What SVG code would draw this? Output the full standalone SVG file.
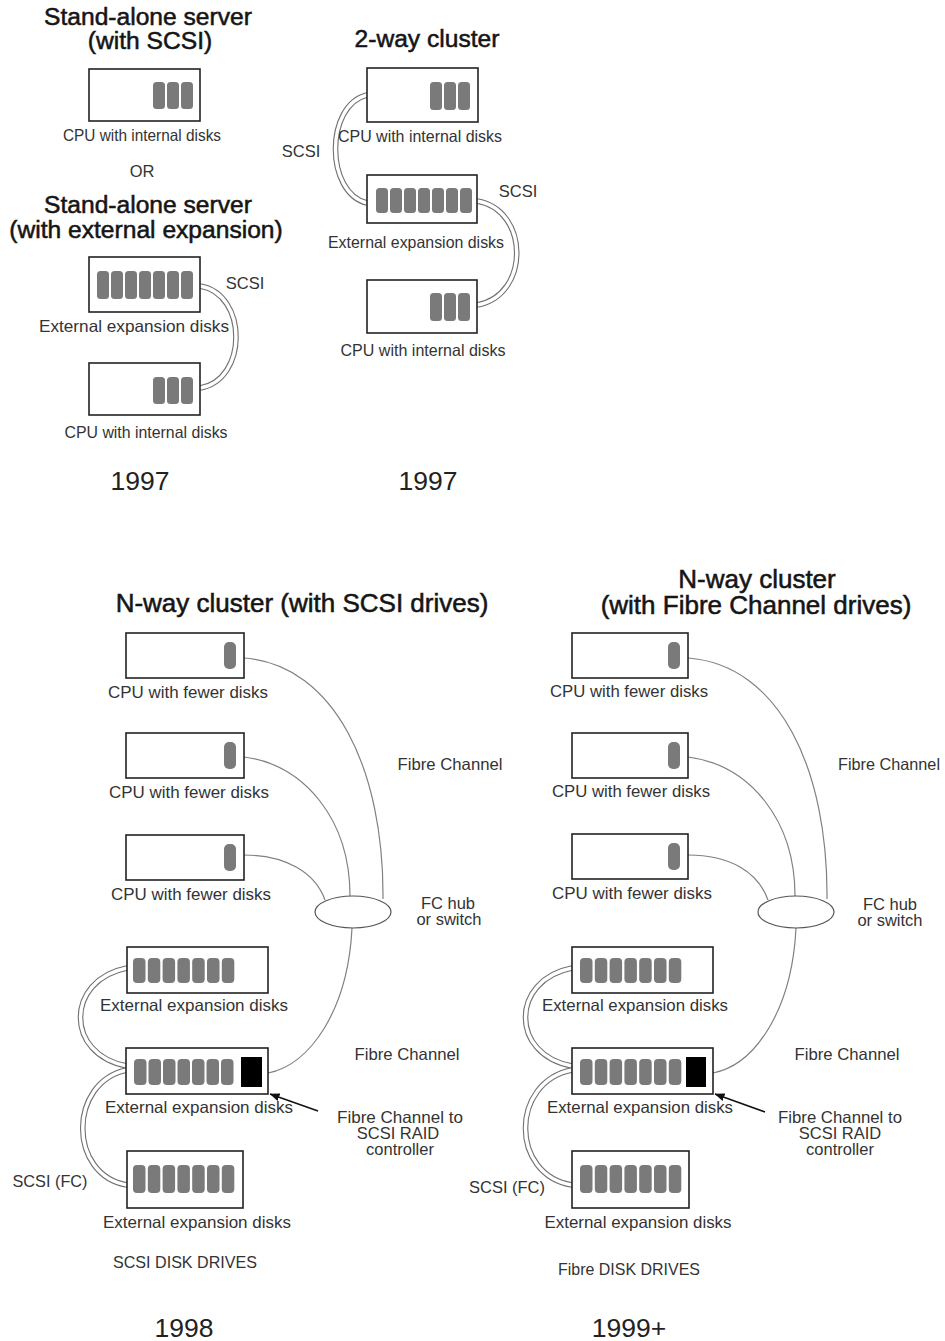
<svg xmlns="http://www.w3.org/2000/svg" width="945" height="1341" viewBox="0 0 945 1341">
<defs>
<style>
.box{fill:#fff;stroke:#222;stroke-width:1.6}
.dk{fill:#7a7a7a}
.blk{fill:#000}
.t{font-family:"Liberation Sans",Arial,Helvetica,sans-serif;fill:#333;text-anchor:middle}
.lbl{font-size:16.5px}
.ttl{font-size:24.6px;fill:#151515;stroke:#151515;stroke-width:0.55}
.ttl2{font-size:26px;fill:#151515;stroke:#151515;stroke-width:0.55}
.yr{font-size:26.5px;fill:#222}
.fc{fill:none;stroke:#808080;stroke-width:1.2}
.so{fill:none;stroke:#707070;stroke-width:5.6}
.si{fill:none;stroke:#fff;stroke-width:3.4}
.hub{fill:#fff;stroke:#555;stroke-width:1.2}
.ar{fill:none;stroke:#111;stroke-width:1.5}
</style>
<marker id="ah" viewBox="0 0 10 8" refX="9.5" refY="4" markerWidth="10" markerHeight="8" markerUnits="userSpaceOnUse" orient="auto">
<path d="M0,0 L10,4 L0,8 Z" fill="#111"/>
</marker>
</defs>
<rect width="945" height="1341" fill="#fff"/>

<!-- connectors -->
<g id="connectors">
<path class="so" d="M200,286 C248,294 248,380 200,388"/>
<path class="si" d="M200,286 C248,294 248,380 200,388"/>
<path class="so" d="M367,95 C325,105 325,193 367,203"/>
<path class="si" d="M367,95 C325,105 325,193 367,203"/>
<path class="so" d="M477,201 C530,210 530,296 477,305"/>
<path class="si" d="M477,201 C530,210 530,296 477,305"/>

<path class="fc" d="M244,658 C335,665 384,770 383,899"/>
<path class="fc" d="M244,757 C305,765 350,820 350,896"/>
<path class="fc" d="M244,855 C285,855 315,872 325,900"/>
<path class="fc" d="M352,928 C348,1010 310,1065 268,1073"/>
<path class="so" d="M127,968 C65,980 65,1055 127,1066"/>
<path class="si" d="M127,968 C65,980 65,1055 127,1066"/>
<path class="so" d="M127,1070 C68,1082 68,1175 127,1185"/>
<path class="si" d="M127,1070 C68,1082 68,1175 127,1185"/>
<path class="ar" d="M318,1111 L270,1094" marker-end="url(#ah)"/>

<path class="fc" d="M688,658 C780,665 828,770 827,899"/>
<path class="fc" d="M688,757 C750,765 795,820 795,896"/>
<path class="fc" d="M688,855 C730,855 758,872 768,900"/>
<path class="fc" d="M796,928 C792,1010 755,1065 713,1073"/>
<path class="so" d="M572,968 C510,980 510,1055 572,1066"/>
<path class="si" d="M572,968 C510,980 510,1055 572,1066"/>
<path class="so" d="M572,1070 C510,1082 510,1175 572,1185"/>
<path class="si" d="M572,1070 C510,1082 510,1175 572,1185"/>
<path class="ar" d="M765,1112 L715,1094" marker-end="url(#ah)"/>
</g>

<!-- top-left: stand-alone -->
<g id="title-standalone-scsi">
<text class="t ttl" x="148" y="25">Stand-alone server</text>
<text class="t ttl" x="150" y="49">(with SCSI)</text>
</g>
<g id="a1-cpu">
<rect class="box" x="89" y="69" width="111" height="52"/>
<rect class="dk" x="153" y="82" width="12" height="27" rx="3.5"/>
<rect class="dk" x="167" y="82" width="12" height="27" rx="3.5"/>
<rect class="dk" x="181" y="82" width="12" height="27" rx="3.5"/>
<text class="t lbl" x="142" y="141" textLength="158" lengthAdjust="spacingAndGlyphs">CPU with internal disks</text>
</g>
<text class="t lbl" x="142" y="177">OR</text>
<g id="title-standalone-ext">
<text class="t ttl" x="148" y="213">Stand-alone server</text>
<text class="t ttl" x="146" y="238">(with external expansion)</text>
</g>
<g id="a2-ext">
<rect class="box" x="89" y="257" width="111" height="55"/>
<rect class="dk" x="97" y="271" width="12" height="28" rx="3.5"/>
<rect class="dk" x="111" y="271" width="12" height="28" rx="3.5"/>
<rect class="dk" x="125" y="271" width="12" height="28" rx="3.5"/>
<rect class="dk" x="139" y="271" width="12" height="28" rx="3.5"/>
<rect class="dk" x="153" y="271" width="12" height="28" rx="3.5"/>
<rect class="dk" x="167" y="271" width="12" height="28" rx="3.5"/>
<rect class="dk" x="181" y="271" width="12" height="28" rx="3.5"/>
<text class="t lbl" x="134" y="332" textLength="190" lengthAdjust="spacingAndGlyphs">External expansion disks</text>
</g>
<text class="t lbl" x="245" y="289">SCSI</text>
<g id="a3-cpu">
<rect class="box" x="89" y="363" width="111" height="52"/>
<rect class="dk" x="153" y="377" width="12" height="27" rx="3.5"/>
<rect class="dk" x="167" y="377" width="12" height="27" rx="3.5"/>
<rect class="dk" x="181" y="377" width="12" height="27" rx="3.5"/>
<text class="t lbl" x="146" y="438" textLength="163" lengthAdjust="spacingAndGlyphs">CPU with internal disks</text>
</g>
<text class="t yr" x="140" y="490">1997</text>

<!-- top-middle: 2-way -->
<text id="title-2way" class="t ttl" x="427" y="47">2-way cluster</text>
<g id="b1-cpu">
<rect class="box" x="367" y="68" width="111" height="54"/>
<rect class="dk" x="430" y="82" width="12" height="28" rx="3.5"/>
<rect class="dk" x="444" y="82" width="12" height="28" rx="3.5"/>
<rect class="dk" x="458" y="82" width="12" height="28" rx="3.5"/>
<text class="t lbl" x="420" y="142" textLength="164" lengthAdjust="spacingAndGlyphs">CPU with internal disks</text>
</g>
<text class="t lbl" x="301" y="157">SCSI</text>
<g id="b2-ext">
<rect class="box" x="367" y="175" width="110" height="48"/>
<rect class="dk" x="376" y="188" width="12" height="25" rx="3.5"/>
<rect class="dk" x="390" y="188" width="12" height="25" rx="3.5"/>
<rect class="dk" x="404" y="188" width="12" height="25" rx="3.5"/>
<rect class="dk" x="418" y="188" width="12" height="25" rx="3.5"/>
<rect class="dk" x="432" y="188" width="12" height="25" rx="3.5"/>
<rect class="dk" x="446" y="188" width="12" height="25" rx="3.5"/>
<rect class="dk" x="460" y="188" width="12" height="25" rx="3.5"/>
<text class="t lbl" x="416" y="248" textLength="176" lengthAdjust="spacingAndGlyphs">External expansion disks</text>
</g>
<text class="t lbl" x="518" y="197">SCSI</text>
<g id="b3-cpu">
<rect class="box" x="367" y="280" width="110" height="53"/>
<rect class="dk" x="430" y="293" width="12" height="28" rx="3.5"/>
<rect class="dk" x="444" y="293" width="12" height="28" rx="3.5"/>
<rect class="dk" x="458" y="293" width="12" height="28" rx="3.5"/>
<text class="t lbl" x="423" y="356" textLength="165" lengthAdjust="spacingAndGlyphs">CPU with internal disks</text>
</g>
<text class="t yr" x="428" y="490">1997</text>

<!-- bottom-left: N-way SCSI -->
<text id="title-nway-scsi" class="t ttl2" x="302" y="612">N-way cluster (with SCSI drives)</text>
<g id="l-cpu1">
<rect class="box" x="126" y="633" width="118" height="45"/>
<rect class="dk" x="224" y="642" width="12" height="27" rx="5"/>
<text class="t lbl" x="188" y="698" textLength="160" lengthAdjust="spacingAndGlyphs">CPU with fewer disks</text>
</g>
<g id="l-cpu2">
<rect class="box" x="126" y="733" width="118" height="45"/>
<rect class="dk" x="224" y="742" width="12" height="27" rx="5"/>
<text class="t lbl" x="189" y="798" textLength="160" lengthAdjust="spacingAndGlyphs">CPU with fewer disks</text>
</g>
<g id="l-cpu3">
<rect class="box" x="126" y="835" width="118" height="45"/>
<rect class="dk" x="224" y="844" width="12" height="27" rx="5"/>
<text class="t lbl" x="191" y="900" textLength="160" lengthAdjust="spacingAndGlyphs">CPU with fewer disks</text>
</g>
<text class="t lbl" x="450" y="770" textLength="105" lengthAdjust="spacingAndGlyphs">Fibre Channel</text>
<g id="l-hub">
<ellipse class="hub" cx="353" cy="912" rx="38" ry="16"/>
<text class="t lbl" x="448" y="909">FC hub</text>
<text class="t lbl" x="449" y="925">or switch</text>
</g>
<g id="l-ext1">
<rect class="box" x="127" y="947" width="141" height="46"/>
<rect class="dk" x="133" y="958" width="12.5" height="25" rx="4"/>
<rect class="dk" x="147.8" y="958" width="12.5" height="25" rx="4"/>
<rect class="dk" x="162.6" y="958" width="12.5" height="25" rx="4"/>
<rect class="dk" x="177.4" y="958" width="12.5" height="25" rx="4"/>
<rect class="dk" x="192.2" y="958" width="12.5" height="25" rx="4"/>
<rect class="dk" x="207" y="958" width="12.5" height="25" rx="4"/>
<rect class="dk" x="221.8" y="958" width="12.5" height="25" rx="4"/>
<text class="t lbl" x="194" y="1011" textLength="188" lengthAdjust="spacingAndGlyphs">External expansion disks</text>
</g>
<g id="l-ext2">
<rect class="box" x="126" y="1048" width="142" height="46"/>
<rect class="dk" x="134" y="1059" width="12.5" height="26" rx="4"/>
<rect class="dk" x="148.5" y="1059" width="12.5" height="26" rx="4"/>
<rect class="dk" x="163" y="1059" width="12.5" height="26" rx="4"/>
<rect class="dk" x="177.5" y="1059" width="12.5" height="26" rx="4"/>
<rect class="dk" x="192" y="1059" width="12.5" height="26" rx="4"/>
<rect class="dk" x="206.5" y="1059" width="12.5" height="26" rx="4"/>
<rect class="dk" x="221" y="1059" width="12.5" height="26" rx="4"/>
<rect class="blk" x="241" y="1057" width="21" height="30"/>
<text class="t lbl" x="199" y="1113" textLength="188" lengthAdjust="spacingAndGlyphs">External expansion disks</text>
</g>
<g id="l-ext3">
<rect class="box" x="127" y="1151" width="116" height="57"/>
<rect class="dk" x="133" y="1165" width="12.5" height="28" rx="4"/>
<rect class="dk" x="147.8" y="1165" width="12.5" height="28" rx="4"/>
<rect class="dk" x="162.6" y="1165" width="12.5" height="28" rx="4"/>
<rect class="dk" x="177.4" y="1165" width="12.5" height="28" rx="4"/>
<rect class="dk" x="192.2" y="1165" width="12.5" height="28" rx="4"/>
<rect class="dk" x="207" y="1165" width="12.5" height="28" rx="4"/>
<rect class="dk" x="221.8" y="1165" width="12.5" height="28" rx="4"/>
<text class="t lbl" x="197" y="1228" textLength="188" lengthAdjust="spacingAndGlyphs">External expansion disks</text>
</g>
<text class="t lbl" x="407" y="1060" textLength="105" lengthAdjust="spacingAndGlyphs">Fibre Channel</text>
<g id="l-raid-note">
<text class="t lbl" x="400" y="1123" textLength="126" lengthAdjust="spacingAndGlyphs">Fibre Channel to</text>
<text class="t lbl" x="398" y="1139">SCSI RAID</text>
<text class="t lbl" x="400" y="1155">controller</text>
</g>
<text class="t lbl" x="50" y="1187" textLength="75" lengthAdjust="spacingAndGlyphs">SCSI (FC)</text>
<text class="t lbl" x="185" y="1268" textLength="144" lengthAdjust="spacingAndGlyphs">SCSI DISK DRIVES</text>
<text class="t yr" x="184" y="1337">1998</text>

<!-- bottom-right: N-way FC -->
<g id="title-nway-fc">
<text class="t ttl2" x="757" y="588">N-way cluster</text>
<text class="t ttl2" x="756" y="614">(with Fibre Channel drives)</text>
</g>
<g id="r-cpu1">
<rect class="box" x="572" y="633" width="116" height="45"/>
<rect class="dk" x="668" y="642" width="12" height="27" rx="5"/>
<text class="t lbl" x="629" y="697" textLength="158" lengthAdjust="spacingAndGlyphs">CPU with fewer disks</text>
</g>
<g id="r-cpu2">
<rect class="box" x="572" y="733" width="116" height="45"/>
<rect class="dk" x="668" y="742" width="12" height="27" rx="5"/>
<text class="t lbl" x="631" y="797" textLength="158" lengthAdjust="spacingAndGlyphs">CPU with fewer disks</text>
</g>
<g id="r-cpu3">
<rect class="box" x="572" y="834" width="116" height="45"/>
<rect class="dk" x="668" y="843" width="12" height="27" rx="5"/>
<text class="t lbl" x="632" y="899" textLength="160" lengthAdjust="spacingAndGlyphs">CPU with fewer disks</text>
</g>
<text class="t lbl" x="889" y="770" textLength="102" lengthAdjust="spacingAndGlyphs">Fibre Channel</text>
<g id="r-hub">
<ellipse class="hub" cx="796" cy="912" rx="38" ry="16"/>
<text class="t lbl" x="890" y="910">FC hub</text>
<text class="t lbl" x="890" y="926">or switch</text>
</g>
<g id="r-ext1">
<rect class="box" x="572" y="947" width="141" height="46"/>
<rect class="dk" x="580" y="958" width="12.5" height="25" rx="4"/>
<rect class="dk" x="594.8" y="958" width="12.5" height="25" rx="4"/>
<rect class="dk" x="609.6" y="958" width="12.5" height="25" rx="4"/>
<rect class="dk" x="624.4" y="958" width="12.5" height="25" rx="4"/>
<rect class="dk" x="639.2" y="958" width="12.5" height="25" rx="4"/>
<rect class="dk" x="654" y="958" width="12.5" height="25" rx="4"/>
<rect class="dk" x="668.8" y="958" width="12.5" height="25" rx="4"/>
<text class="t lbl" x="635" y="1011" textLength="186" lengthAdjust="spacingAndGlyphs">External expansion disks</text>
</g>
<g id="r-ext2">
<rect class="box" x="572" y="1048" width="141" height="46"/>
<rect class="dk" x="580" y="1059" width="12.5" height="26" rx="4"/>
<rect class="dk" x="594.8" y="1059" width="12.5" height="26" rx="4"/>
<rect class="dk" x="609.6" y="1059" width="12.5" height="26" rx="4"/>
<rect class="dk" x="624.4" y="1059" width="12.5" height="26" rx="4"/>
<rect class="dk" x="639.2" y="1059" width="12.5" height="26" rx="4"/>
<rect class="dk" x="654" y="1059" width="12.5" height="26" rx="4"/>
<rect class="dk" x="668.8" y="1059" width="12.5" height="26" rx="4"/>
<rect class="blk" x="686" y="1057" width="20" height="30"/>
<text class="t lbl" x="640" y="1113" textLength="186" lengthAdjust="spacingAndGlyphs">External expansion disks</text>
</g>
<g id="r-ext3">
<rect class="box" x="572" y="1151" width="117" height="57"/>
<rect class="dk" x="580" y="1165" width="12.5" height="28" rx="4"/>
<rect class="dk" x="594.8" y="1165" width="12.5" height="28" rx="4"/>
<rect class="dk" x="609.6" y="1165" width="12.5" height="28" rx="4"/>
<rect class="dk" x="624.4" y="1165" width="12.5" height="28" rx="4"/>
<rect class="dk" x="639.2" y="1165" width="12.5" height="28" rx="4"/>
<rect class="dk" x="654" y="1165" width="12.5" height="28" rx="4"/>
<rect class="dk" x="668.8" y="1165" width="12.5" height="28" rx="4"/>
<text class="t lbl" x="638" y="1228" textLength="187" lengthAdjust="spacingAndGlyphs">External expansion disks</text>
</g>
<text class="t lbl" x="847" y="1060" textLength="105" lengthAdjust="spacingAndGlyphs">Fibre Channel</text>
<g id="r-raid-note">
<text class="t lbl" x="840" y="1123" textLength="124" lengthAdjust="spacingAndGlyphs">Fibre Channel to</text>
<text class="t lbl" x="840" y="1139">SCSI RAID</text>
<text class="t lbl" x="840" y="1155">controller</text>
</g>
<text class="t lbl" x="507" y="1193" textLength="76" lengthAdjust="spacingAndGlyphs">SCSI (FC)</text>
<text class="t lbl" x="629" y="1275" textLength="142" lengthAdjust="spacingAndGlyphs">Fibre DISK DRIVES</text>
<text class="t yr" x="629" y="1337">1999+</text>
</svg>
